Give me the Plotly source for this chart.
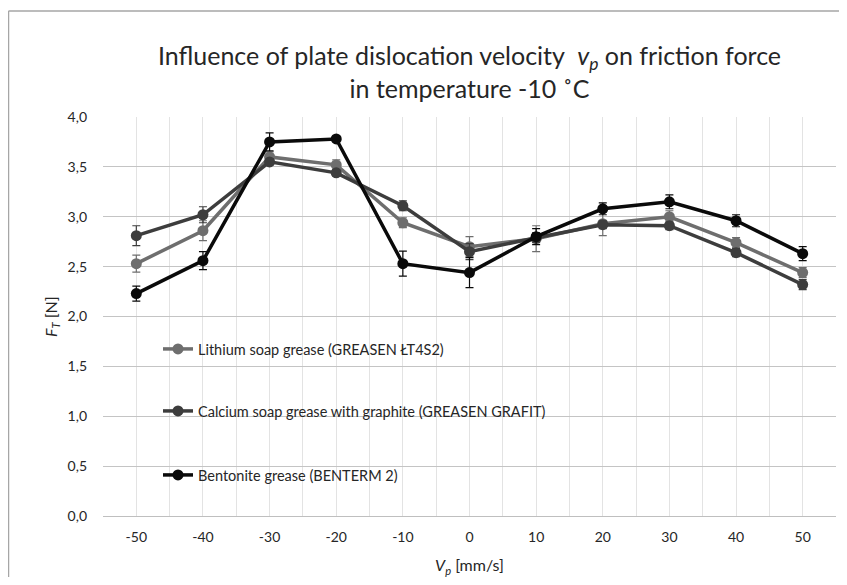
import plotly.graph_objects as go

velocity = [-50, -40, -30, -20, -10, 0, 10, 20, 30, 40, 50]
tick_labels = ["-50", "-40", "-30", "-20", "-10", "0", "10", "20", "30", "40", "50"]

lithium = [2.53, 2.86, 3.60, 3.52, 2.94, 2.70, 2.78, 2.93, 3.00, 2.74, 2.44]
lithium_err = [0.085, 0.10, 0.05, 0.05, 0.05, 0.10, 0.13, 0.12, 0.06, 0.05, 0.05]

calcium = [2.81, 3.02, 3.55, 3.44, 3.11, 2.65, 2.79, 2.92, 2.91, 2.64, 2.32]
calcium_err = [0.10, 0.08, 0.03, 0.03, 0.05, 0.08, 0.05, 0.04, 0.04, 0.04, 0.05]

bentonite = [2.23, 2.56, 3.75, 3.78, 2.53, 2.44, 2.80, 3.08, 3.15, 2.96, 2.63]
bentonite_err = [0.075, 0.09, 0.09, 0.02, 0.125, 0.15, 0.08, 0.06, 0.07, 0.06, 0.07]

names = ["Lithium soap grease (GREASEN ŁT4S2)",
         "Calcium soap grease with graphite (GREASEN GRAFIT)",
         "Bentonite grease (BENTERM 2)"]
colors = ["#6e6e6e", "#3d3d3d", "#0a0a0a"]
series = [lithium, calcium, bentonite]
errors = [lithium_err, calcium_err, bentonite_err]
legend_ids = ["legend", "legend2", "legend3"]

FONT = "Lato, 'Open Sans', sans-serif"

fig = go.Figure()
for name, col, ys, err, lg in zip(names, colors, series, errors, legend_ids):
    fig.add_trace(go.Scatter(
        x=velocity, y=ys, name=name, mode="lines+markers",
        line=dict(color=col, width=3.5),
        marker=dict(color=col, size=11, symbol="circle"),
        error_y=dict(type="data", array=err, visible=True, color=col,
                     thickness=1.2, width=4),
        legend=lg, showlegend=True,
    ))

OFF = 8  # page body margin
W, H = 847 - OFF, 585 - 2 * OFF
L, R, T, B = 95, 11, 109, 61
pw, ph = W - L - R, H - T - B

def sx(x):
    return (x - OFF - L) / pw

def sy(y):
    return (H - B - (y - OFF)) / ph

leg_common = dict(xanchor="left", yanchor="middle", bgcolor="rgba(0,0,0,0)",
                  font=dict(family=FONT, size=14.5, color="#262626"),
                  itemwidth=30, tracegroupgap=0, visible=True)

fig.update_layout(
    width=W, height=H,
    margin=dict(l=L, r=R, t=T, b=B, autoexpand=False),
    paper_bgcolor="white", plot_bgcolor="white",
    separators=",.",
    showlegend=True,
    font=dict(family=FONT, color="#262626"),
    title=dict(
        text="Influence of plate dislocation velocity  <i>v<sub>p</sub></i> on friction force<br>in temperature -10 ˚C",
        x=0.5, xanchor="center", xref="paper", y=1 - 57 / H, yanchor="middle",
        font=dict(family=FONT, size=25, color="#262626"),
        automargin=False,
    ),
    xaxis=dict(
        range=[-55, 55], tickmode="array", tickvals=velocity, ticktext=tick_labels,
        showgrid=True, gridcolor="#e3e3e3", gridwidth=1,
        minor=dict(tickmode="linear", tick0=-55, dtick=5, showgrid=True,
                   gridcolor="#e3e3e3", gridwidth=1, ticks=""),
        zeroline=False, showline=True, linecolor="#bfbfbf", linewidth=1,
        ticks="", ticklabelstandoff=8, automargin=False,
        tickfont=dict(family=FONT, size=14, color="#262626"),
        title=dict(text="<i>V<sub>p</sub></i> [mm/s]", standoff=16,
                   font=dict(family=FONT, size=16, color="#262626")),
        fixedrange=True,
    ),
    yaxis=dict(
        range=[0, 4], dtick=0.5, tickformat=".1f",
        showgrid=True, gridcolor="#c4c4c4", gridwidth=1,
        zeroline=False, showline=False, ticks="", ticklabelstandoff=15,
        automargin=False,
        tickfont=dict(family=FONT, size=14, color="#262626"),
    ),
    annotations=[
        dict(text="<i>F<sub>T</sub></i> [N]", xref="paper", yref="paper",
             x=sx(51), y=sy(317), xanchor="center", yanchor="middle",
             textangle=-90, showarrow=False,
             font=dict(family=FONT, size=16, color="#262626")),
    ],
    legend=dict(x=sx(158), y=sy(349), **leg_common),
    legend2=dict(x=sx(158), y=sy(411), **leg_common),
    legend3=dict(x=sx(158), y=sy(475), **leg_common),
    shapes=[
        dict(type="line", xref="paper", yref="paper",
             x0=sx(8.5), x1=sx(870), y0=sy(11), y1=sy(11),
             line=dict(color="#a6a6a6", width=1.5)),
        dict(type="line", xref="paper", yref="paper",
             x0=sx(8.5), x1=sx(8.5), y0=sy(11), y1=sy(620),
             line=dict(color="#a6a6a6", width=1.5)),
    ],
)

fig.write_html("out.html")
